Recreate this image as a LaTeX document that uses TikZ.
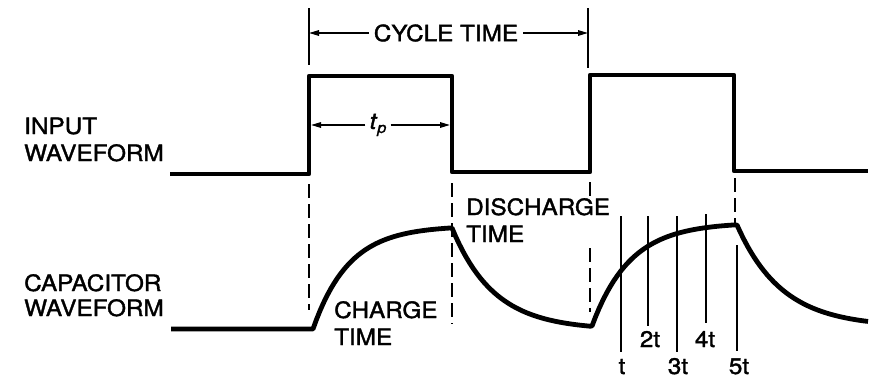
\documentclass[tikz,border=0pt]{standalone}
\usepackage{fontspec}
\setmainfont{TeX Gyre Heros}[FakeStretch=1.08, FakeBold=1.6]
\usetikzlibrary{arrows.meta}

\begin{document}
\begin{tikzpicture}[
  x=1pt, y=-1pt,
  wave/.style={line width=4.8pt, line join=round},
  guide/.style={line width=1.6pt, dash pattern=on 14pt off 6pt},
  rule/.style={line width=1.6pt},
  dim/.style={line width=1.5pt, -{Triangle[length=10pt, width=5.5pt]}},
  lbl/.style={font=\fontsize{22.5}{27}\selectfont, align=left, inner sep=0pt},
  tlbl/.style={font=\fontsize{22.5}{27}\selectfont, inner sep=0pt, anchor=base}
]
\useasboundingbox (0,0) rectangle (871,380);

% Side labels (base = last line)
\node[lbl, anchor=base west] (inlbl) at (24,161) {INPUT\\WAVEFORM};
\node[lbl, anchor=base west] (caplbl) at (24,316) {CAPACITOR\\[-2pt]WAVEFORM};

% Input waveform
\draw[wave] (170,174) -- (309,174) -- (309,76) -- (452,76) -- (452,172)
  -- (590,172) -- (590,75) -- (734,75) -- (734,171) -- (868,171);

% Capacitor waveform
\draw[wave] (171,329) -- (313,329)
  -- plot[domain=313:450, samples=40] (\x, {329-101*(1-exp(-(\x-313)/36))/(1-exp(-137/36))})
  -- (452,228)
  -- plot[domain=452:590, samples=40] (\x, {228+102*(1-exp(-(\x-452)/42))})
  -- plot[domain=592:733, samples=40] (\x, {326-101*(1-exp(-(\x-592)/38))/(1-exp(-141/38))})
  -- (737,225)
  -- plot[domain=737:868, samples=40] (\x, {225+102*(1-exp(-(\x-737)/45))});

% Dashed guides
\draw[guide] (309,184) -- (309,310);
\draw[guide] (452,183) -- (452,324);
\draw[guide] (590,182) -- (590,197);
\draw[guide] (590,248) -- (590,312);
\draw[guide] (735,178) -- (735,223);

% Cycle time
\coordinate (ctl) at (309,33);
\coordinate (ctr) at (588,33);
\draw[rule] (309,8) -- (309,65);
\draw[rule] (588,8) -- (588,68);
\node[lbl, inner xsep=5pt] (cycle) at (446,33) {CYCLE TIME};
\draw[dim] (cycle.west) -- (ctl);
\draw[dim] (cycle.east) -- (ctr);

% Pulse width
\coordinate (tpl) at (311,125);
\coordinate (tpr) at (450,125);
\node[lbl, inner xsep=4pt] (tp) at (378,125) {\textit{t}\raisebox{-4pt}{\fontsize{15}{15}\selectfont\textit{p}}};
\draw[dim] (tp.west) -- (tpl);
\draw[dim] (tp.east) -- (tpr);

% Charge / discharge captions
\node[lbl, anchor=base west] (charge) at (334,345) {CHARGE\\TIME};
\node[lbl, anchor=base west] (discharge) at (466,242) {DISCHARGE\\TIME};

% Time constants
\draw[rule] (621,216) -- (621,352);
\draw[rule] (648,216) -- (648,326);
\draw[rule] (677,216) -- (677,352);
\draw[rule] (706,214) -- (706,323);
\draw[rule] (737,245) -- (737,351);
\node[tlbl] (t1) at (622,374) {t};
\node[tlbl] (t2) at (650,347) {2t};
\node[tlbl] (t3) at (678,374) {3t};
\node[tlbl] (t4) at (705,347) {4t};
\node[tlbl] (t5) at (739,374) {5t};

\end{tikzpicture}
\end{document}
